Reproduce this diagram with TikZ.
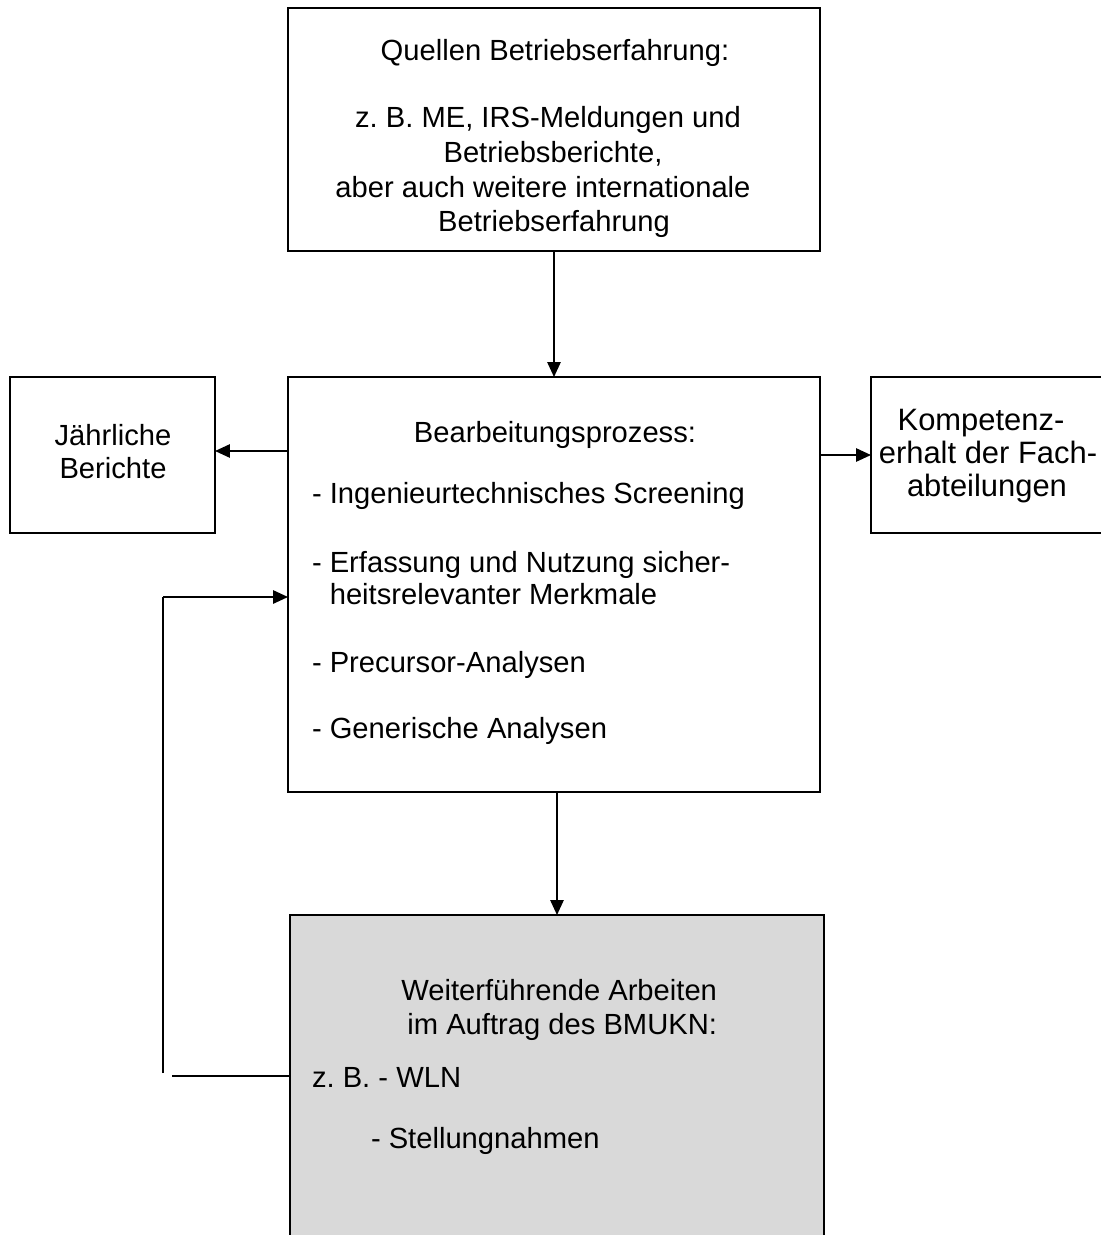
\documentclass[tikz,border=0pt]{standalone}
\usepackage{fontspec}
\setmainfont{Liberation Sans}
\usetikzlibrary{arrows.meta,calc}
\definecolor{boxgray}{HTML}{D9D9D9}
\frenchspacing
\begin{document}
\begin{tikzpicture}[x=0.02cm,y=-0.02cm,
  box/.style={draw=black,line width=1.2pt,rectangle,inner sep=0pt,outer sep=0pt},
  txt/.style={inner sep=0pt,outer sep=0pt,font=\fontsize{16.6}{19.8}\selectfont\frenchspacing},
  bigtxt/.style={inner sep=0pt,outer sep=0pt,font=\fontsize{17.6}{20.6}\selectfont\frenchspacing},
  arr/.style={line width=1.2pt,-{Triangle[length=8.5pt,width=7.5pt]}},
  ln/.style={line width=1.2pt}]
\useasboundingbox (0,0) rectangle (1101,1235);
% boxes
\node[box,minimum width=10.64cm,minimum height=4.86cm] (top) at (554,129.5) {};
\node[box,minimum width=10.64cm,minimum height=8.30cm] (mid) at (554,584.5) {};
\node[box,minimum width=4.10cm,minimum height=3.12cm] (jb) at (112.5,455) {};
\node[box,minimum width=4.64cm,minimum height=3.12cm] (kp) at (987,455) {};
\node[box,fill=boxgray,minimum width=10.68cm,minimum height=6.60cm] (bot) at (557,1080) {};
% top text
\node[txt,anchor=base] (t1) at (555,60) {Quellen Betriebserfahrung:};
\node[txt,anchor=base] (t2) at (548,127) {z. B. ME, IRS-Meldungen und};
\node[txt,anchor=base] (t3) at (553,162) {Betriebsberichte,};
\node[txt,anchor=base] (t4) at (543,197) {aber auch weitere internationale};
\node[txt,anchor=base] (t5) at (554,231) {Betriebserfahrung};
% middle text
\node[txt,anchor=base] (m0) at (555,442) {Bearbeitungsprozess:};
\node[txt,anchor=base west] (m1) at (312,503) {- Ingenieurtechnisches Screening};
\node[txt,anchor=base west] (m2) at (312,572) {- Erfassung und Nutzung sicher-};
\node[txt,anchor=base west] (m3) at (312,604) {\phantom{- }heitsrelevanter Merkmale};
\node[txt,anchor=base west] (m4) at (312,672) {- Precursor-Analysen};
\node[txt,anchor=base west] (m5) at (312,738) {- Generische Analysen};
% left box text
\node[txt,anchor=base] (j1) at (113,445) {Jährliche};
\node[txt,anchor=base] (j2) at (113,478) {Berichte};
% right box text
\node[bigtxt,anchor=base] (k1) at (981,430) {Kompetenz-};
\node[bigtxt,anchor=base] (k2) at (988,463) {erhalt der Fach-};
\node[bigtxt,anchor=base] (k3) at (987,496) {abteilungen};
% bottom text
\node[txt,anchor=base east] (b1) at (717,1000) {Weiterführende Arbeiten};
\node[txt,anchor=base east] (b2) at (717,1034) {im Auftrag des BMUKN:};
\node[txt,anchor=base west] (b3) at (312,1087) {z. B. - WLN};
\node[txt,anchor=base west] (b4) at (371,1148) {- Stellungnahmen};
% connectors
\draw[arr] (top.south) -- (mid.north);
\draw[arr] (mid.south -| bot.north) -- (bot.north);
\draw[arr] ($(mid.west |- jb)+(0,-4)$) -- ($(jb.east)+(0,-4)$);
\draw[arr] (mid.east |- kp) -- (kp);
\coordinate (fbA) at (163,1073);
\coordinate (fbB) at (163,597);
\coordinate (fbC) at (172,1076);
\draw[ln] (fbA) -- (fbB);
\draw[arr] (fbB) -- (fbB -| mid.west);
\draw[ln] (fbC -| bot.west) -- (fbC);
\end{tikzpicture}
\end{document}
